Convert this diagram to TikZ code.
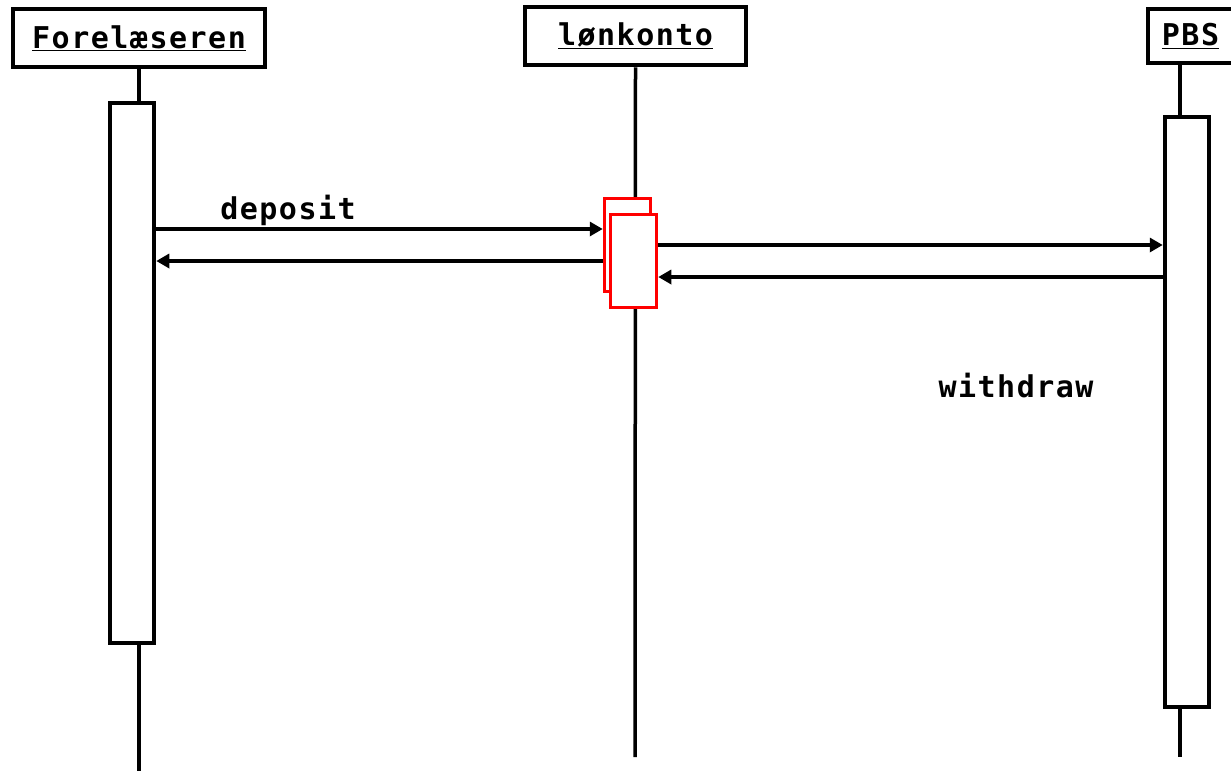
\documentclass[tikz,border=0pt]{standalone}
\usepackage{fontspec}
\setmonofont[LetterSpace=5]{DejaVu Sans Mono}
\usetikzlibrary{arrows.meta}
\tikzset{
  txt/.style={font=\ttfamily\bfseries\fontsize{30}{32}\selectfont},
  objbox/.style={draw, line width=4.5pt, fill=white, inner sep=0pt, txt},
  actbox/.style={draw, line width=4.5pt, fill=white, inner sep=0pt, minimum width=44pt},
  redact/.style={draw=red, line width=3.5pt, fill=white, inner sep=0pt, minimum width=46pt, minimum height=93pt},
  lifeline/.style={line width=3.5pt},
  msg/.style={line width=4pt, -{Triangle[length=13pt,width=14pt]}},
  lbl/.style={txt, inner sep=0pt}
}
\begin{document}
\begin{tikzpicture}[x=1pt,y=-1pt]
\useasboundingbox (0,0) rectangle (1231,771);
% object heads
\node[objbox, minimum width=252pt, minimum height=58pt] (fore) at (139,38) {\underline{Forelæseren}};
\node[objbox, minimum width=221pt, minimum height=58pt] (lon) at (635.5,36) {\underline{lønkonto}};
\node[objbox, minimum width=85pt, minimum height=54pt] (pbs) at (1190.5,36) {\underline{PBS}};
% lifelines
\coordinate (foreend) at (139,771);
\coordinate (lonend) at (635,757);
\coordinate (pbsend) at (1180,757);
\draw[lifeline] (lon.south) -- (lonend);
% activations
\node[actbox, minimum height=540pt] (act1) at (132,373) {};
\node[actbox, minimum height=590pt] (act2) at (1187,412) {};
\draw[lifeline] (fore.south) -- (fore.south |- act1.north);
\draw[lifeline] (foreend |- act1.south) -- (foreend);
\draw[lifeline] (pbsend |- pbs.south) -- (pbsend |- act2.north);
\draw[lifeline] (pbsend |- act2.south) -- (pbsend);
\node[redact] (red1) at (627.5,245) {};
\node[redact] (red2) at (633.5,261) {};
% messages
\draw[msg] (act1.east |- 0,229) -- (red1.west |- 0,229);
\draw[msg] (red1.west |- 0,261) -- (act1.east |- 0,261);
\draw[msg] (red2.east |- 0,245) -- (act2.west |- 0,245);
\draw[msg] (act2.west |- 0,277) -- (red2.east |- 0,277);
\node[lbl] (dep) at (288,210) {deposit};
\node[lbl] (wd) at (1016,386) {withdraw};
\end{tikzpicture}
\end{document}
